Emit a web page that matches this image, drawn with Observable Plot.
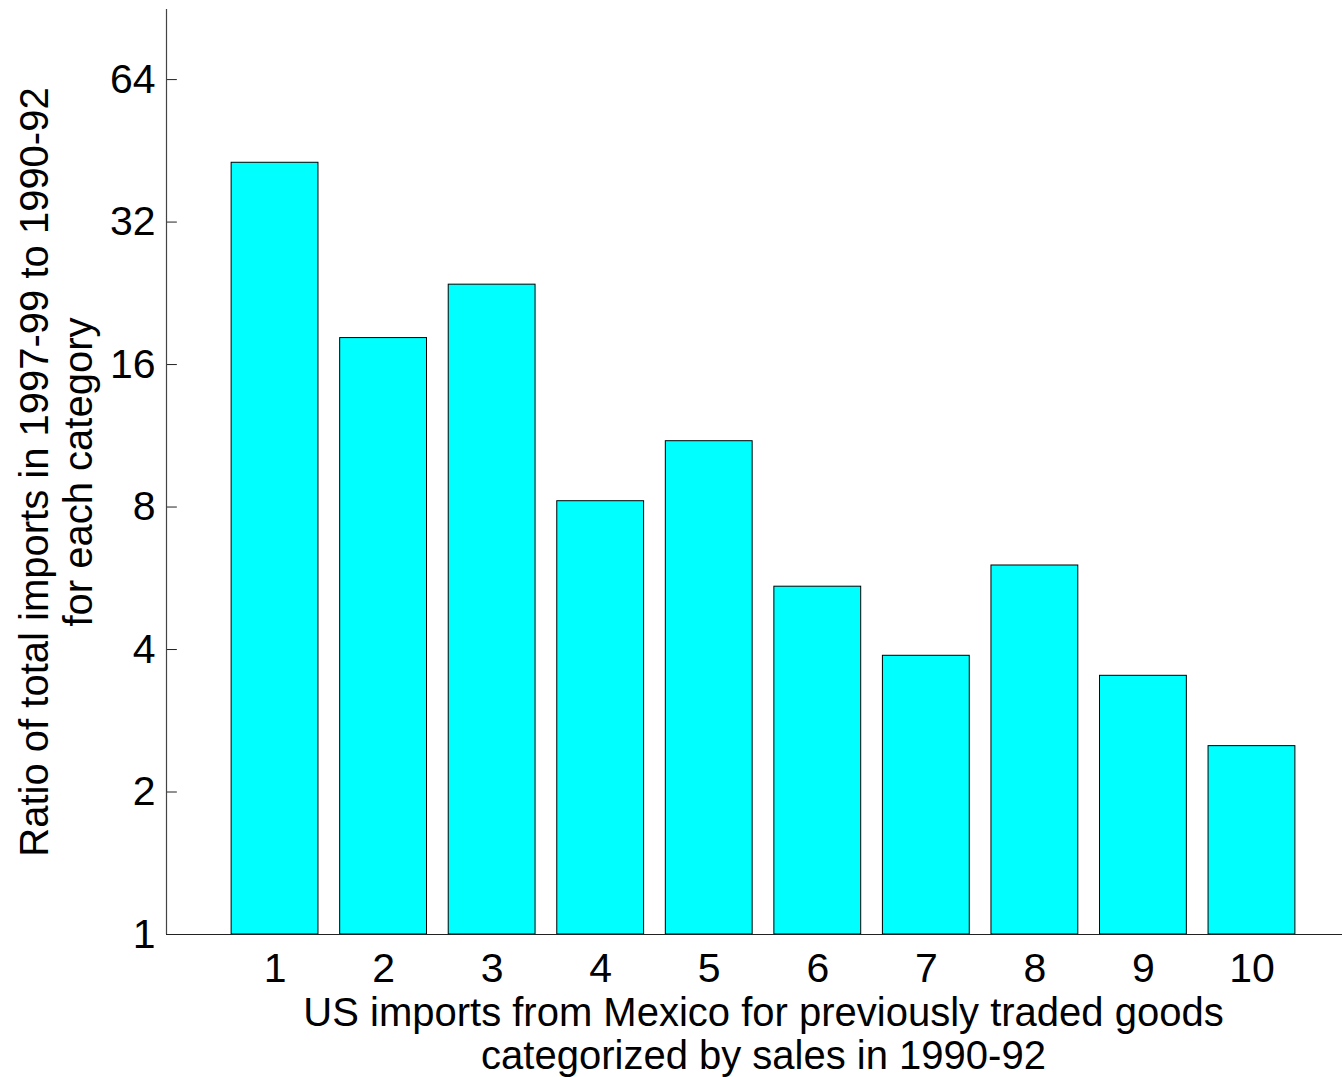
<!DOCTYPE html>
<html>
<head>
<meta charset="utf-8">
<script src="https://cdn.jsdelivr.net/npm/d3@7"></script>
<script src="https://cdn.jsdelivr.net/npm/@observablehq/plot@0.6"></script>
<style>
  html, body { margin: 0; padding: 0; background: #fff; }
  #chart svg { display: block; font-family: "Liberation Sans", Arial, sans-serif; }
</style>
</head>
<body>
<div id="chart"></div>
<script>
const categories = [1, 2, 3, 4, 5, 6, 7, 8, 9, 10];
const ratios = [42.7, 18.2, 23.6, 8.23, 11.02, 5.43, 3.88, 6.02, 3.52, 2.50];
const yTicks = [1, 2, 4, 8, 16, 32, 64];
const xLabel = "US imports from Mexico for previously traded goods\ncategorized by sales in 1990-92";
const yLabel = "Ratio of total imports in 1997-99 to 1990-92\nfor each category";

const data = categories.map((c, i) => ({cat: c, ratio: ratios[i]}));

const chart = Plot.plot({
  width: 1342,
  height: 1077,
  marginLeft: 166,
  marginRight: 0,
  marginTop: 9,
  marginBottom: 143,
  style: {fontFamily: "'Liberation Sans', Arial, sans-serif", background: "#fff"},
  x: {type: "linear", domain: [0, 10.834], axis: null},
  y: {type: "log", base: 2, domain: [1, 90], axis: null},
  marks: [
    Plot.rectY(data, {
      x1: d => d.cat - 0.4,
      x2: d => d.cat + 0.4,
      y1: 1,
      y2: "ratio",
      fill: "#00ffff",
      stroke: "#000",
      strokeWidth: 1
    }),
    Plot.ruleY(yTicks.slice(1), {x1: 0, x2: 0.1, stroke: "#222", strokeWidth: 1}),
    Plot.ruleX([0], {y1: 1, y2: 90, stroke: "#444", strokeWidth: 1.2}),
    Plot.ruleY([1], {x1: 0, x2: 10.834, stroke: "#222", strokeWidth: 1.2}),
    Plot.axisY({ticks: yTicks, tickFormat: d => String(d), tickSize: 0, tickPadding: 11, fontSize: 41, label: null, color: "#000"}),
    Plot.axisX({ticks: categories, tickFormat: d => String(d), tickSize: 0, tickPadding: 18, fontSize: 41, label: null, color: "#000"}),
    Plot.text([xLabel], {frameAnchor: "bottom", dx: 9, dy: 99, textAnchor: "middle", lineAnchor: "middle", lineHeight: 1.08, fontSize: 40, fill: "#000"}),
    Plot.text([yLabel], {frameAnchor: "left", rotate: -90, dx: -111, textAnchor: "middle", lineAnchor: "middle", lineHeight: 1.1, fontSize: 40, fill: "#000"})
  ]
});
document.getElementById("chart").appendChild(chart);
</script>
</body>
</html>
